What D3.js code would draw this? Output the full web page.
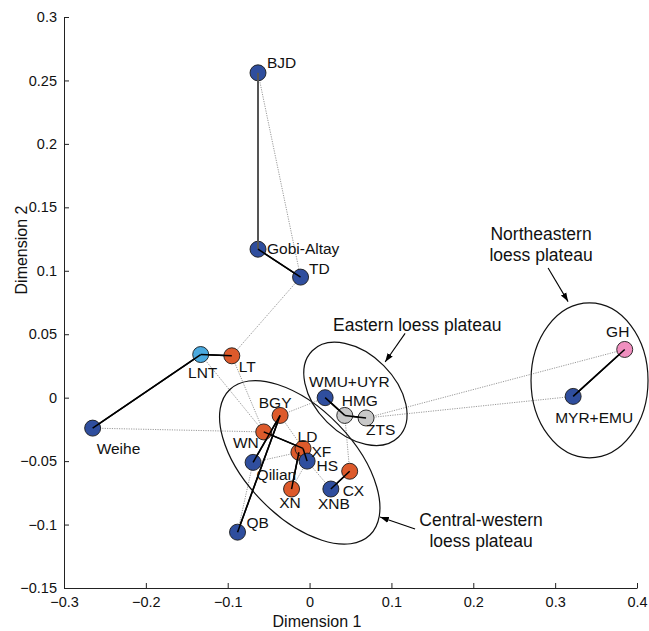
<!DOCTYPE html>
<html><head><meta charset="utf-8">
<script src="https://cdn.jsdelivr.net/npm/d3@7"></script>
<style>body{margin:0;background:#fff}svg{display:block}text{font-family:Arial,"Liberation Sans",Helvetica,sans-serif}</style>
</head><body>
<script>
// ---- data ----
const names = ["BJD","Gobi-Altay","TD","LNT","LT","Weihe","BGY","WN","XF","LD","HS","Qilian","XN","CX","XNB","QB","WMU+UYR","HMG","ZTS","GH","MYR+EMU"];
const dim1  = [-0.063,-0.063,-0.011,-0.133,-0.095,-0.265,-0.036,-0.056,-0.013,-0.008,-0.003,-0.069,-0.022,0.049,0.026,-0.088,0.019,0.043,0.069,0.385,0.322];
const dim2  = [0.256,0.117,0.095,0.034,0.033,-0.024,-0.014,-0.027,-0.043,-0.040,-0.050,-0.051,-0.072,-0.058,-0.072,-0.106,0.000,-0.014,-0.016,0.038,0.001];
const group = ["A","A","A","C","B","A","B","B","B","B","A","A","B","B","A","A","A","D","D","E","A"];
const solidEdges = [["BJD","Gobi-Altay"],["Gobi-Altay","TD"],["Weihe","LNT"],["LNT","LT"],["BGY","Qilian"],["BGY","QB"],["WN","LD"],["LD","HS"],["XF","XN"],["CX","XNB"],["WMU+UYR","HMG"],["HMG","ZTS"],["GH","MYR+EMU"]];
const dottedEdges = [["BJD","TD"],["TD","LT"],["LT","WN"],["LNT","WN"],["Weihe","WN"],["QB","Qilian"],["Qilian","XF"],["BGY","LD"],["BGY","WMU+UYR"],["HS","XNB"],["HMG","CX"],["ZTS","GH"],["ZTS","MYR+EMU"],["XN","HS"]];
const xTicks = [-0.3,-0.2,-0.1,0,0.1,0.2,0.3,0.4];
const yTicks = [-0.15,-0.1,-0.05,0,0.05,0.1,0.15,0.2,0.25,0.3];
const ellipseCx = [0.056,-0.012,0.342];
const ellipseCy = [0.003,-0.051,0.0136];
const annLines = [["Eastern loess plateau"],["Northeastern","loess plateau"],["Central-western","loess plateau"]];

// ---- layout / style ----
const W=649,H=631;
const x = d3.scaleLinear().domain([-0.3,0.4]).range([64,637]);
const y = d3.scaleLinear().domain([-0.15,0.3]).range([588,17]);
const colors = {A:"#2f4e9e",B:"#dd5a2b",C:"#4aa9df",D:"#c8c8c8",E:"#f08fbf"};
// label offsets [dx, dy, anchor]
const labelPos = {
 "BJD":[9,-10,"start"],"Gobi-Altay":[9,-1,"start"],"TD":[8.5,-8.5,"start"],"LNT":[2,18,"middle"],
 "LT":[7,11,"start"],"Weihe":[4,20,"start"],"BGY":[-5,-13,"middle"],"WN":[-5,11,"end"],
 "LD":[-5.5,-12,"start"],"XF":[12.5,-0.5,"start"],"HS":[9.5,4,"start"],"Qilian":[3.5,12,"start"],
 "XN":[-1.5,13.5,"middle"],"CX":[-7,19,"start"],"XNB":[3,15,"middle"],"QB":[9,-10,"start"],
 "WMU+UYR":[-16,-16,"start"],"HMG":[-3,-15,"start"],"ZTS":[0,12,"start"],"GH":[-7,-18,"middle"],"MYR+EMU":[-18,21.5,"start"]};
const ellGeom = [[61,40,45],[101,54,46],[58.5,77.5,0]];
const annPos = [ {x:0.0287,y:0.0573,anchor:"start",ax1:0.1167,ay1:0.0507,ax2:0.0923,ay2:0.0281},
                 {x:0.2828,y:0.129,anchor:"middle",ax1:0.2914,ay1:0.1022,ax2:0.3158,ay2:0.0757},
                 {x:0.2095,y:-0.0964,anchor:"middle",ax1:0.1289,ay1:-0.1035,ax2:0.0861,ay2:-0.094} ];

const svg = d3.select("body").append("svg").attr("width",W).attr("height",H);
svg.append("defs").append("marker").attr("id","ah").attr("viewBox","0 0 10 10")
  .attr("refX",10).attr("refY",5).attr("markerWidth",8).attr("markerHeight",8).attr("orient","auto")
  .append("path").attr("d","M0,1.5 L10,5 L0,8.5 Z").attr("fill","#000");

const idx = n => names.indexOf(n);
const P = n => [x(dim1[idx(n)]), y(dim2[idx(n)])];

// axes
const xAxis = d3.axisBottom(x).tickValues(xTicks).tickSizeInner(-5).tickSizeOuter(0).tickPadding(9).tickFormat(d=>d3.format("")(+d.toFixed(2)));
const gx = svg.append("g").attr("transform","translate(0,588)").call(xAxis);
const yAxis = d3.axisLeft(y).tickValues(yTicks).tickSizeInner(-5).tickSizeOuter(0).tickPadding(7).tickFormat(d=>d3.format("")(+d.toFixed(2)));
const gy = svg.append("g").attr("transform","translate(64,0)").call(yAxis);
[gx,gy].forEach(g=>{g.selectAll("text").attr("font-size",14.5).attr("fill","#111");g.selectAll("line,path").attr("stroke","#222");});
gx.selectAll("text").attr("dy","0.71em");

svg.append("text").attr("x",317).attr("y",621).attr("dy","0.35em").attr("text-anchor","middle").attr("font-size",16).attr("fill","#111").text("Dimension 1");
svg.append("text").attr("transform","translate(21,250) rotate(-90)").attr("dy","0.35em").attr("text-anchor","middle").attr("font-size",16).attr("fill","#111").text("Dimension 2");

// dotted edges
svg.append("g").selectAll("line").data(dottedEdges).join("line")
  .attr("x1",d=>P(d[0])[0]).attr("y1",d=>P(d[0])[1]).attr("x2",d=>P(d[1])[0]).attr("y2",d=>P(d[1])[1])
  .attr("stroke","#9a9a9a").attr("stroke-width",1).attr("stroke-dasharray","1.2,1.2");
// ellipses
ellGeom.forEach((g,i)=>{
  svg.append("ellipse").attr("cx",0).attr("cy",0).attr("rx",g[0]).attr("ry",g[1])
    .attr("transform",`translate(${x(ellipseCx[i])},${y(ellipseCy[i])}) rotate(${g[2]})`)
    .attr("fill","none").attr("stroke","#111").attr("stroke-width",1.2);
});
// solid edges
svg.append("g").selectAll("line").data(solidEdges).join("line")
  .attr("x1",d=>P(d[0])[0]).attr("y1",d=>P(d[0])[1]).attr("x2",d=>P(d[1])[0]).attr("y2",d=>P(d[1])[1])
  .attr("stroke",(d,i)=>i===0?"#555":"#000").attr("stroke-width",(d,i)=>i===0?2:1.5);
// points
svg.append("g").selectAll("circle").data(names).join("circle")
  .attr("cx",(d,i)=>x(dim1[i])).attr("cy",(d,i)=>y(dim2[i])).attr("r",8)
  .attr("fill",(d,i)=>colors[group[i]]).attr("stroke","#1a1a1a").attr("stroke-width",0.9);
// redraw solid line segments on top of circles (as in reference, lines connect centers)
svg.append("g").selectAll("line").data(solidEdges).join("line")
  .attr("x1",d=>P(d[0])[0]).attr("y1",d=>P(d[0])[1]).attr("x2",d=>P(d[1])[0]).attr("y2",d=>P(d[1])[1])
  .attr("stroke",(d,i)=>i===0?"#555":"#000").attr("stroke-width",(d,i)=>i===0?2:1.5);
// labels
svg.append("g").selectAll("text").data(names).join("text")
  .attr("x",(d,i)=>x(dim1[i])+labelPos[d][0]).attr("y",(d,i)=>y(dim2[i])+labelPos[d][1])
  .attr("dy","0.35em").attr("text-anchor",d=>labelPos[d][2]).attr("font-size",15.5).attr("fill","#111").text(d=>d);
// annotations
annPos.forEach((a,i)=>{
  annLines[i].forEach((t,j)=>{
    svg.append("text").attr("x",x(a.x)).attr("y",y(a.y)+j*20.5).attr("dy","0.35em")
      .attr("text-anchor",a.anchor).attr("font-size",17.5).attr("fill","#111").text(t);
  });
  svg.append("line").attr("x1",x(a.ax1)).attr("y1",y(a.ay1)).attr("x2",x(a.ax2)).attr("y2",y(a.ay2))
    .attr("stroke","#000").attr("stroke-width",1.1).attr("marker-end","url(#ah)");
});
</script>
</body></html>
